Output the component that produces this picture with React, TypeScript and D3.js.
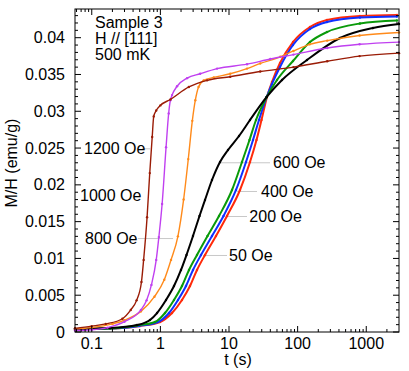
import * as d3 from 'd3'

const W = 409
const H = 371
const M = { top: 9, right: 10, bottom: 39, left: 75 }

// t (s), M/H (emu/g)
const OE_50: [number, number][] = [
  [0.057, 0.00041], [0.184, 0.00048], [0.505, 0.00082], [0.987, 0.00136], [1.477, 0.00258],
  [2.065, 0.00435], [2.701, 0.00625], [3.416, 0.00843], [4.469, 0.01047], [6.463, 0.01305],
  [9.348, 0.01577], [14.46, 0.0193], [20.23, 0.02311], [25.16, 0.0261], [29.74, 0.02881],
  [35.78, 0.03194], [42.31, 0.03398], [55.34, 0.03656], [85.6, 0.03941], [151.4, 0.04145],
  [267.8, 0.0424], [810, 0.04295], [2804, 0.04308],
]
const OE_200: [number, number][] = [
  [0.057, 0.00041], [0.184, 0.00048], [0.488, 0.00082], [0.923, 0.00136], [1.335, 0.00258],
  [1.806, 0.00435], [2.362, 0.00625], [2.987, 0.00843], [3.907, 0.01047], [5.651, 0.01305],
  [8.314, 0.01577], [12.65, 0.0193], [17.69, 0.02311], [22.37, 0.0261], [27.35, 0.02881],
  [35.42, 0.03194], [42.31, 0.03371], [55.34, 0.03602], [85.6, 0.03901], [151.4, 0.04118],
  [267.8, 0.04213], [810, 0.04274], [2804, 0.04288],
]
const OE_400: [number, number][] = [
  [0.057, 0.00041], [0.184, 0.00048], [0.456, 0.00088], [0.835, 0.00136], [1.168, 0.00258],
  [1.579, 0.00435], [2.065, 0.00625], [2.612, 0.00843], [3.416, 0.01047], [4.86, 0.01305],
  [7.148, 0.01577], [11.06, 0.0193], [15.46, 0.02311], [19.89, 0.0261], [24.74, 0.02881],
  [35.42, 0.03194], [50.04, 0.03425], [85.6, 0.03683], [151.4, 0.03941], [267.8, 0.04077],
  [810, 0.04193], [2804, 0.04234],
]
const OE_600: [number, number][] = [
  [0.057, 0.00041], [0.184, 0.00054], [0.456, 0.00095], [0.706, 0.00163], [0.893, 0.00258],
  [1.208, 0.00435], [1.579, 0.00625], [1.997, 0.00843], [2.402, 0.01047], [2.987, 0.01305],
  [3.716, 0.01577], [4.469, 0.01794], [5.651, 0.02066], [7.392, 0.02311], [9.667, 0.02474],
  [13.99, 0.02664], [20.23, 0.02881], [35.42, 0.03194], [59.18, 0.03425], [136.9, 0.03697],
  [414.3, 0.03996], [1253, 0.04132], [3000, 0.04186],
]
const OE_800: [number, number][] = [
  [0.057, 0.0004], [0.1, 0.0006], [0.2, 0.0011], [0.3, 0.0016], [0.52, 0.0028], [0.82, 0.0048],
  [1.14, 0.0071], [1.43, 0.0098], [1.8, 0.013], [2.18, 0.018], [2.55, 0.0235], [2.92, 0.0287],
  [3.23, 0.0315], [3.6, 0.0333], [4.27, 0.0342], [6, 0.0346], [10.4, 0.0351], [18.3, 0.0358],
  [28.5, 0.0365], [56, 0.0374], [87, 0.0382], [150, 0.0391], [270, 0.0396], [800, 0.0403],
  [3000, 0.0407],
]
const OE_1000: [number, number][] = [
  [0.057, 0.0002], [0.1, 0.0003], [0.17, 0.0006], [0.3, 0.0014], [0.52, 0.003], [0.63, 0.0043],
  [0.74, 0.0064], [0.87, 0.0098], [0.95, 0.0129], [1.06, 0.0174], [1.21, 0.0251], [1.32, 0.0297],
  [1.4, 0.0315], [1.48, 0.0322], [1.75, 0.0334], [2.45, 0.0345], [3.8, 0.0351], [6.7, 0.0358],
  [18.3, 0.0364], [40, 0.0371], [87, 0.0377], [270, 0.0386], [800, 0.0391], [3000, 0.0394],
]
const OE_1200: [number, number][] = [
  [0.057, 0.0005], [0.1, 0.0008], [0.16, 0.0011], [0.28, 0.0018], [0.37, 0.003], [0.45, 0.0043],
  [0.53, 0.0068], [0.57, 0.0098], [0.64, 0.0156], [0.7, 0.0216], [0.76, 0.0265], [0.8, 0.0293],
  [0.87, 0.0301], [1.0, 0.0308], [1.4, 0.0316], [2.6, 0.0333], [4.8, 0.0342], [10.4, 0.0347],
  [28.5, 0.0354], [87, 0.036], [270, 0.0368], [800, 0.0375], [3000, 0.0379],
]

const X_TICKS = [0.1, 1, 10, 100, 1000]
const X_TICK_LABELS = ['0.1', '1', '10', '100', '1000']
const Y_TICKS = [0, 0.005, 0.01, 0.015, 0.02, 0.025, 0.03, 0.035, 0.04]
const Y_TICK_LABELS = ['0', '0.005', '0.01', '0.015', '0.02', '0.025', '0.03', '0.035', '0.04']

const NOTES = ['Sample 3', 'H // [111]', '500 mK']

const SERIES = [
  { label: '50 Oe', data: OE_50, color: '#ff2a0a', width: 2 },
  { label: '200 Oe', data: OE_200, color: '#1030ff', width: 2 },
  { label: '400 Oe', data: OE_400, color: '#0a9a0a', width: 2 },
  { label: '600 Oe', data: OE_600, color: '#000000', width: 2 },
  { label: '800 Oe', data: OE_800, color: '#ff8a1a', width: 1.4 },
  { label: '1000 Oe', data: OE_1000, color: '#c040f0', width: 1.4 },
  { label: '1200 Oe', data: OE_1200, color: '#9a1c06', width: 1.4 },
]

// field labels: text start (t), height (M/H), grey leader from (t) to (t)
const LABELS = [
  { text: '1200 Oe', t: 0.0771, m: 0.0249, from: 0.54, to: 0.71 },
  { text: '1000 Oe', t: 0.0674, m: 0.0186, from: 0, to: 0 },
  { text: '800 Oe', t: 0.0797, m: 0.0127, from: 0.47, to: 1.53 },
  { text: '600 Oe', t: 43.8, m: 0.0230, from: 7.39, to: 39.6 },
  { text: '400 Oe', t: 29.3, m: 0.0191, from: 13.1, to: 25.6 },
  { text: '200 Oe', t: 19.8, m: 0.0157, from: 9.35, to: 18.3 },
  { text: '50 Oe', t: 10.0, m: 0.0104, from: 4.18, to: 9.35 },
]

const FONT = '"Liberation Sans", Arial, Helvetica, sans-serif'
const FS = 16

export default function App() {
  const x = d3.scaleLog().domain([0.057, 3000]).range([M.left, W - M.right])
  const y = d3.scaleLinear().domain([0, 0.0439]).range([H - M.bottom, M.top])
  const x0 = M.left, x1 = W - M.right, y0 = H - M.bottom, y1 = M.top

  const line = d3.line<[number, number]>()
    .x(d => x(d[0])).y(d => y(d[1]))
    .curve(d3.curveMonotoneX)

  const minorX: number[] = []
  for (let e = -2; e <= 3; e++) {
    for (let k = 2; k <= 9; k++) {
      const v = k * 10 ** e
      if (v > 0.057 && v < 3000) minorX.push(v)
    }
  }
  const minorY = d3.range(0, 44).map(i => i * 0.001).filter((v, i) => i % 5 !== 0)

  return (
    <svg width={W} height={H} style={{ position: 'absolute', left: 0, top: 0, background: '#fff' }}
      fontFamily={FONT}>
      {/* leader lines */}
      {LABELS.filter(l => l.to > 0).map(l => (
        <line key={'ld' + l.text} x1={x(l.from)} x2={x(l.to)} y1={y(l.m)} y2={y(l.m)}
          stroke="#c8c8c8" strokeWidth={1} />
      ))}

      {/* curves */}
      {SERIES.map(s => (
        <g key={s.label}>
          <path d={line(s.data) || ''} fill="none" stroke={s.color} strokeWidth={s.width} />
          {s.data.map((d, i) => (
            <circle key={i} cx={x(d[0])} cy={y(d[1])} r={1.2} fill={s.color} />
          ))}
        </g>
      ))}

      {/* frame */}
      <rect x={x0} y={y1} width={x1 - x0} height={y0 - y1} fill="none" stroke="#000" strokeWidth={1} />

      {X_TICKS.map(v => (
        <g key={'xt' + v}>
          <line x1={x(v)} x2={x(v)} y1={y0} y2={y0 - 6} stroke="#000" />
          <line x1={x(v)} x2={x(v)} y1={y1} y2={y1 + 6} stroke="#000" />
        </g>
      ))}
      {minorX.map(v => (
        <g key={'xm' + v}>
          <line x1={x(v)} x2={x(v)} y1={y0} y2={y0 - 3} stroke="#000" />
          <line x1={x(v)} x2={x(v)} y1={y1} y2={y1 + 3} stroke="#000" />
        </g>
      ))}
      {Y_TICKS.map(v => (
        <g key={'yt' + v}>
          <line x1={x0} x2={x0 + 6} y1={y(v)} y2={y(v)} stroke="#000" />
          <line x1={x1} x2={x1 - 6} y1={y(v)} y2={y(v)} stroke="#000" />
        </g>
      ))}
      {minorY.map(v => (
        <g key={'ym' + v}>
          <line x1={x0} x2={x0 + 3} y1={y(v)} y2={y(v)} stroke="#000" />
          <line x1={x1} x2={x1 - 3} y1={y(v)} y2={y(v)} stroke="#000" />
        </g>
      ))}

      {/* tick labels */}
      {X_TICKS.map((v, i) => (
        <text key={'xl' + v} x={x(v)} y={y0 + 17} textAnchor="middle" fontSize={FS}>{X_TICK_LABELS[i]}</text>
      ))}
      {Y_TICKS.map((v, i) => (
        <text key={'yl' + v} x={65} y={y(v) + 5.5} textAnchor="end" fontSize={FS}>{Y_TICK_LABELS[i]}</text>
      ))}

      {/* axis titles */}
      <text x={(x0 + x1) / 2 + 1} y={365} textAnchor="middle" fontSize={FS}>t (s)</text>
      <text transform="translate(17,163) rotate(-90)" textAnchor="middle" fontSize={FS}>M/H (emu/g)</text>

      {/* notes */}
      {NOTES.map((n, i) => (
        <text key={n} x={95} y={28 + i * 16} fontSize={FS}>{n}</text>
      ))}

      {/* field labels */}
      {LABELS.map(l => (
        <text key={l.text} x={x(l.t)} y={y(l.m) + 5.5} fontSize={FS}>{l.text}</text>
      ))}
    </svg>
  )
}
